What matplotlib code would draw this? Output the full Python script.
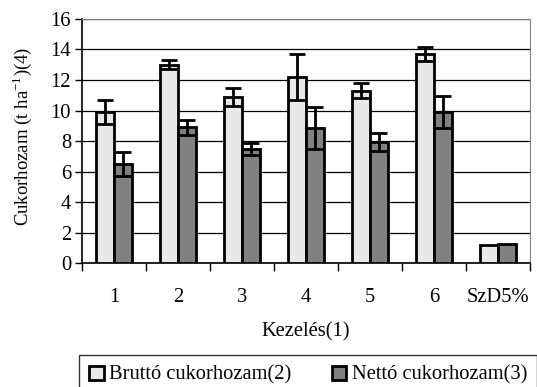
import matplotlib
matplotlib.use("Agg")
import matplotlib.pyplot as plt
import numpy as np

categories = ["1", "2", "3", "4", "5", "6", "SzD5%"]
brutto = [9.9, 13.0, 10.9, 12.2, 11.3, 13.7, 1.2]
brutto_err = [0.8, 0.3, 0.6, 1.5, 0.5, 0.45, 0]
netto = [6.5, 8.9, 7.5, 8.85, 7.95, 9.9, 1.25]
netto_err = [0.8, 0.5, 0.4, 1.35, 0.6, 1.05, 0]

plt.rcParams['font.family'] = ['Liberation Serif', 'DejaVu Serif']
fs = 14.8

fig = plt.figure(figsize=(5.37, 3.87), dpi=100)
ax = fig.add_axes([0.153, 0.320, 0.834, 0.631])

x = np.arange(len(categories))
w = 0.28
ek = dict(ecolor='black', elinewidth=2.0, capsize=6, capthick=2.0)
ax.bar(x - w/2, brutto, w, color='#e8e8e8', edgecolor='black', linewidth=2.0,
       yerr=[e if e > 0 else np.nan for e in brutto_err], error_kw=ek,
       label='Bruttó cukorhozam(2)', zorder=3)
ax.bar(x + w/2, netto, w, color='#808080', edgecolor='black', linewidth=2.0,
       yerr=[e if e > 0 else np.nan for e in netto_err], error_kw=ek,
       label='Nettó cukorhozam(3)', zorder=3)

ax.set_xlim(-0.5, len(categories) - 0.5)
ax.set_ylim(0, 16)
ax.set_yticks(np.arange(0, 17, 2))
ax.yaxis.grid(True, color='black', linewidth=0.9, zorder=0)
ax.set_axisbelow(True)
ax.set_xticks(x)
ax.set_xticklabels(categories)
ax.set_xticks(np.arange(-0.5, len(categories), 1), minor=True)
ax.tick_params(axis='x', which='major', length=0, pad=18, labelsize=fs)
ax.tick_params(axis='x', which='minor', length=6, width=1, direction='out')
ax.tick_params(axis='y', length=5, width=1, labelsize=fs, pad=3)
for s in ['top', 'right']:
    ax.spines[s].set_color('#808080')
ax.spines['left'].set_linewidth(1.2)
ax.spines['bottom'].set_linewidth(1.2)

ax.set_xlabel('Kezelés(1)', fontsize=fs, labelpad=11)
ax.set_ylabel('Cukorhozam (t ha$^{\\mathregular{-1}}$)(4)', fontsize=13.5)
ax.yaxis.set_label_coords(-0.108, 0.52)

leg = fig.legend(loc='upper left', bbox_to_anchor=(0.147, 0.082), ncol=2,
                 frameon=True, fancybox=False, edgecolor='black', fontsize=fs,
                 handlelength=0.7, handleheight=0.7, handletextpad=0.25,
                 columnspacing=2.0, borderpad=0.5, borderaxespad=0)
leg.get_frame().set_linewidth(1.0)

fig.savefig('out.png', dpi=100)
